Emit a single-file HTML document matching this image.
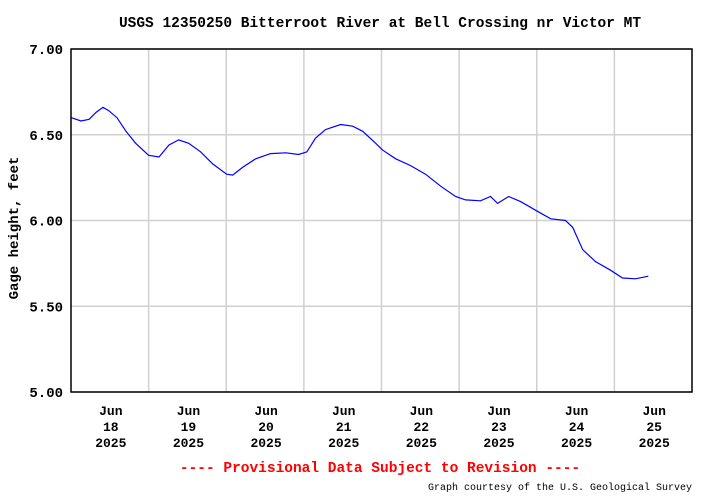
<!DOCTYPE html>
<html><head><meta charset="utf-8"><style>
html,body{margin:0;padding:0;background:#fff;}
svg{display:block;font-family:"Liberation Mono",monospace;font-weight:bold;}
</style></head><body>
<svg id="chart" width="712" height="497" viewBox="0 0 712 497">
<rect width="712" height="497" fill="#fff"/>
<text x="380" y="27" text-anchor="middle" font-size="14.5">USGS 12350250 Bitterroot River at Bell Crossing nr Victor MT</text>
<g id="grid"></g>
<g id="yticks"></g>
<g id="xticks"></g>
<polyline id="series" fill="none" stroke="#0000ff" stroke-width="1.2"/>
<rect x="71" y="49" width="621" height="343" fill="none" stroke="#000" stroke-width="1.5"/>
<text transform="translate(18,228) rotate(-90)" text-anchor="middle" font-size="14">Gage height, feet</text>
<text x="380" y="472" text-anchor="middle" font-size="14.5" fill="#ff0000">---- Provisional Data Subject to Revision ----</text>
<text x="692" y="490" text-anchor="end" font-size="10" font-weight="normal">Graph courtesy of the U.S. Geological Survey</text>
</svg>
<script>
const hours = [0,3.1,5.6,7.7,9.9,11.7,14.2,17,20,24,27.2,30.3,33.3,36.4,40.1,43.8,48.1,50,53.1,57.1,61.7,66.4,70.4,72.9,75.6,78.7,83.4,87.1,90.2,94.2,96.4,100.4,105,109.6,114.3,118.9,122,126.6,129.7,131.9,135.3,139,143.6,148.3,152.9,155.1,158.2,162.2,166.8,170.5,174.5,178.5]
const stage = [6.60,6.58,6.59,6.63,6.66,6.64,6.60,6.52,6.45,6.38,6.37,6.44,6.47,6.45,6.40,6.33,6.27,6.265,6.31,6.36,6.39,6.395,6.385,6.40,6.48,6.53,6.56,6.55,6.52,6.45,6.41,6.36,6.32,6.27,6.20,6.14,6.12,6.115,6.14,6.10,6.14,6.11,6.06,6.01,6.00,5.96,5.83,5.76,5.71,5.665,5.66,5.675]
const yTicks = [5.00,5.50,6.00,6.50,7.00]
const dayLabels = ["18","19","20","21","22","23","24","25"]
const L=71,R=692,T=49,B=392,HOURS=192;
const xs=h=>L+(R-L)*h/HOURS;
const ys=v=>B-(B-T)*(v-5)/2;
const NS="http://www.w3.org/2000/svg";
const grid=document.getElementById('grid'),yt=document.getElementById('yticks'),xt=document.getElementById('xticks');
function mk(tag,attrs,parent){const e=document.createElementNS(NS,tag);for(const k in attrs)e.setAttribute(k,attrs[k]);parent.appendChild(e);return e;}
yTicks.forEach(v=>{
  const y=ys(v);
  const g=mk('line',{x1:L,x2:R,y1:y,y2:y,stroke:'#d0d0d0','stroke-width':1.5},grid);
  
  
  const t=mk('text',{x:63,y:y+5,'text-anchor':'end','font-size':14},yt);
  t.textContent=v.toFixed(2);
  
  
});
dayLabels.forEach((d,i)=>{
  const x=xs(24*(i+1));
  if(i<7){
    const g=mk('line',{x1:x,x2:x,y1:T,y2:B,stroke:'#d0d0d0','stroke-width':1.5},grid);
    
    
  }
  const cx=xs(24*i+12)+1;
  const t=mk('text',{x:cx,'text-anchor':'middle','font-size':13},xt);
  
  
  [["Jun",415],[d,431],["2025",447]].forEach(([s,y])=>{const sp=mk('tspan',{x:cx,y:y},t);sp.textContent=s;});
});
document.getElementById('series').setAttribute('points',hours.map((h,i)=>xs(h).toFixed(1)+','+ys(stage[i]).toFixed(1)).join(' '));
</script>
</body></html>
